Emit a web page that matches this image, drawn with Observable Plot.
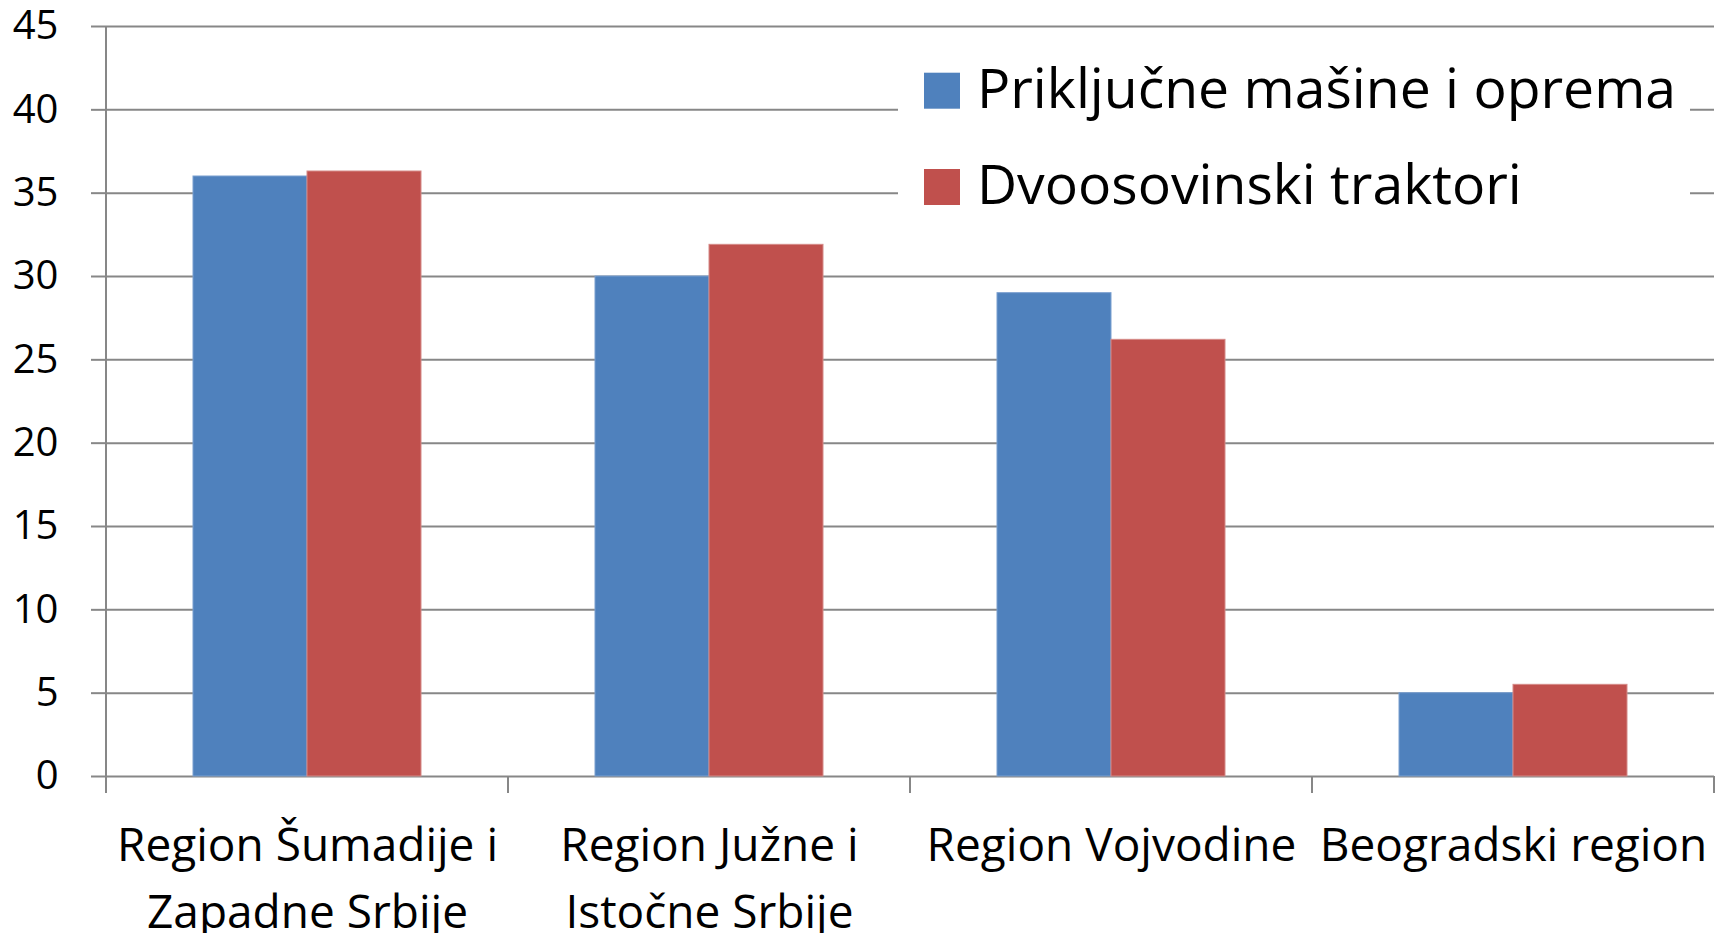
<!DOCTYPE html>
<html>
<head>
<meta charset="utf-8">
<script src="https://cdn.jsdelivr.net/npm/d3@7"></script>
<script src="https://cdn.jsdelivr.net/npm/@observablehq/plot@0.6"></script>
<style>
  html, body { margin: 0; padding: 0; background: #fff; }
  #wrap { position: relative; width: 1723px; height: 933px; font-family: "Open Sans", sans-serif; overflow: hidden; }
  #legend { position: absolute; left: 898px; top: 52px; }
</style>
</head>
<body>
<div id="wrap">
  <div id="chart"></div>
  <svg id="legend" width="792" height="168"></svg>
</div>
<script>
// ---- data ----
const regions = [
  "Region Šumadije i Zapadne Srbije",
  "Region Južne i Istočne Srbije",
  "Region Vojvodine",
  "Beogradski region"
];
const regionLabels = [
  "Region Šumadije i\nZapadne Srbije",
  "Region Južne i\nIstočne Srbije",
  "Region Vojvodine",
  "Beogradski region"
];
const series = ["Priključne mašine i oprema", "Dvoosovinski traktori"];
const prikljucne = [36, 30, 29, 5];
const dvoosovinski = [36.3, 31.9, 26.2, 5.5];
const colors = ["#4F81BD", "#C0504D"];
const borders = ["#7BA0D0", "#D58A88"];
const yTicks = [0, 5, 10, 15, 20, 25, 30, 35, 40, 45];

const values = [prikljucne, dvoosovinski];
const data = regions.flatMap((r, i) =>
  series.map((s, j) => ({region: r, series: s, value: values[j][i]}))
);

const gridColor = "#878787";

const plot = Plot.plot({
  width: 1723,
  height: 933,
  marginLeft: 105,
  marginRight: 9,
  marginTop: 26,
  marginBottom: 157,
  style: {fontFamily: "'Open Sans', sans-serif", background: "#fff", color: "#000", overflow: "visible"},
  fx: {domain: regions, padding: 0, label: null},
  x: {domain: series, paddingInner: 0, paddingOuter: 0.75, axis: null},
  y: {domain: [0, 45], label: null},
  color: {domain: series, range: colors},
  marks: [
    Plot.gridY(yTicks, {stroke: gridColor, strokeOpacity: 1, strokeWidth: 2}),
    Plot.barY(data, {
      fx: "region", x: "series", y: "value",
      fill: "series",
      stroke: d => borders[series.indexOf(d.series)],
      strokeWidth: 1
    }),
    Plot.axisY(yTicks, {
      tickSize: 15, tickPadding: 33, fontSize: 40,
      stroke: gridColor, strokeWidth: 2, fill: "#000",
      label: null
    }),
    Plot.axisFx({
      anchor: "bottom", tickSize: 0, tickPadding: 37, fontSize: 46,
      lineHeight: 1.45, fill: "#000", label: null,
      tickFormat: d => regionLabels[regions.indexOf(d)]
    })
  ]
});

document.getElementById("chart").appendChild(plot);

// y-axis line and category-boundary tick marks, positioned via Plot's own scales
const fx = Plot.scale({x: plot.scale("fx")});
const y = Plot.scale({y: plot.scale("y")});
const svg = d3.select(plot.tagName.toLowerCase() === "svg" ? plot : plot.querySelector("svg"));
const bw = fx.bandwidth;
const y0 = y.apply(0), yTop = y.apply(45);
const tickLen = 17;
const g = svg.append("g").attr("stroke", gridColor).attr("stroke-width", 2);
const x0 = fx.apply(regions[0]);
g.append("line").attr("x1", x0).attr("x2", x0).attr("y1", yTop).attr("y2", y0 + tickLen);
regions.forEach(r => {
  const xe = fx.apply(r) + bw;
  g.append("line").attr("x1", xe).attr("x2", xe).attr("y1", y0).attr("y2", y0 + tickLen);
});

// legend (overlay with white background)
const lg = d3.select("#legend");
lg.append("rect").attr("width", 792).attr("height", 168).attr("fill", "#fff");
series.forEach((s, i) => {
  lg.append("rect").attr("x", 26).attr("y", 20.7 + i * 96.3).attr("width", 36).attr("height", 36).attr("fill", colors[i]);
  lg.append("text").attr("x", 79).attr("y", 56.3 + i * 96)
    .attr("font-size", 55.3).attr("font-family", "'Open Sans', sans-serif").attr("fill", "#000")
    .text(s);
});
</script>
</body>
</html>
